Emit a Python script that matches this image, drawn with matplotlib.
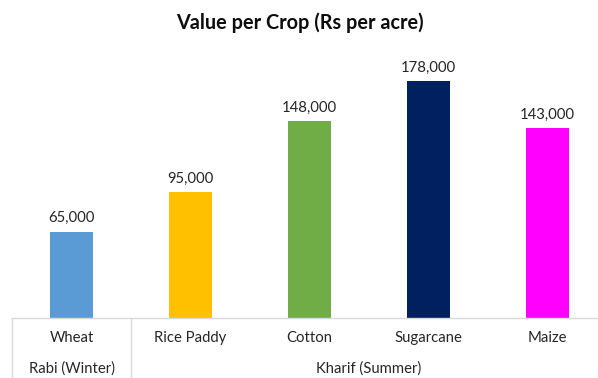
import matplotlib.pyplot as plt
from matplotlib import transforms

# crop values in Rs per acre
crops = ["Wheat", "Rice Paddy", "Cotton", "Sugarcane", "Maize"]
values = [65000, 95000, 148000, 178000, 143000]
colors = ["#5B9BD5", "#FFC000", "#70AD47", "#002060", "#FF00FF"]

# season groups: (label, first crop index, last crop index)
seasons = [("Rabi (Winter)", 0, 0), ("Kharif (Summer)", 1, 4)]

plt.rcParams["font.family"] = ["Lato", "DejaVu Sans"]

fig = plt.figure(figsize=(5.98, 3.78), dpi=100)
ax = fig.add_axes([12 / 598, 60 / 378, 586 / 598, 266 / 378])

x = list(range(len(crops)))
bars = ax.bar(x, values, width=0.36, color=colors)

# value labels above each bar
for xi, v in zip(x, values):
    ax.annotate("{:,}".format(v), (xi, v), xytext=(0, 4.5), textcoords="offset points",
                ha="center", va="bottom", fontsize=10.7, color="#262626")

ax.set_xlim(-0.5, 4.424)
ax.set_ylim(0, 200000)
ax.set_yticks([])
ax.set_xticks([])
for s in ["top", "right", "left"]:
    ax.spines[s].set_visible(False)
ax.spines["bottom"].set_color("#D9D9D9")
ax.spines["bottom"].set_linewidth(1)

# two-level category axis
trans = transforms.blended_transform_factory(ax.transData, ax.transAxes)
for xi, name in zip(x, crops):
    ax.text(xi, -20 / 266, name, transform=trans, ha="center", va="center",
            fontsize=10.7, color="#262626")

for label, i0, i1 in seasons:
    ax.text((i0 + i1) / 2, -51 / 266, label, transform=trans, ha="center",
            va="center", fontsize=10.7, color="#262626")
    ax.plot([i0 - 0.5, i0 - 0.5], [0, -70 / 266], transform=trans,
            color="#D9D9D9", lw=1, clip_on=False)

fig.text(300 / 598, 1 - 23 / 378, "Value per Crop (Rs per acre)", ha="center",
         va="center", fontsize=14.3, fontweight="bold", color="#0D0D0D")

fig.savefig("out.png", dpi=100)
